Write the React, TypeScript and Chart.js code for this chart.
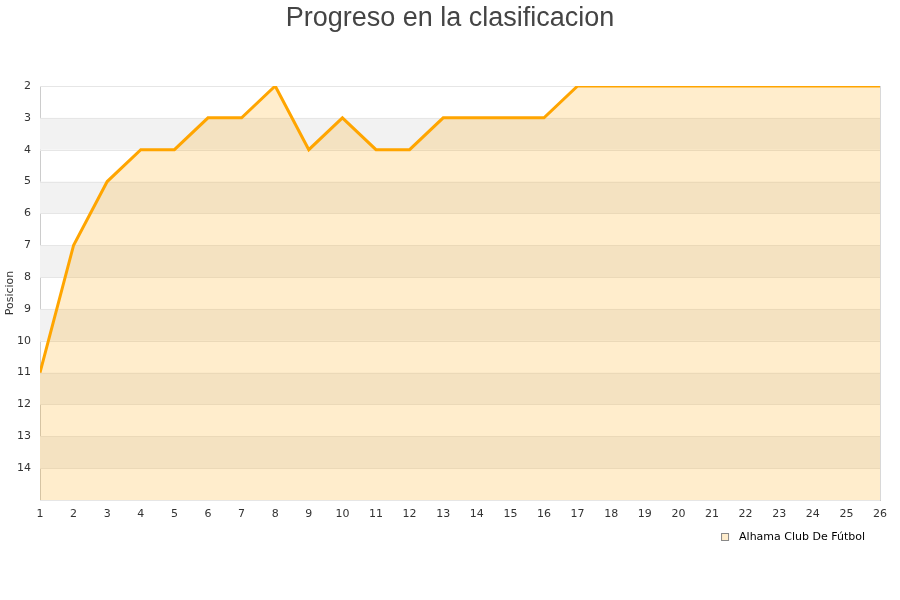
import React, { useEffect, useRef } from "react";
import { Chart, registerables } from "chart.js";

Chart.register(...registerables);

const jornadas: string[] = ["1","2","3","4","5","6","7","8","9","10","11","12","13","14","15","16","17","18","19","20","21","22","23","24","25","26"];
const posiciones: number[] = [11, 7, 5, 4, 4, 3, 3, 2, 4, 3, 4, 4, 3, 3, 3, 3, 2, 2, 2, 2, 2, 2, 2, 2, 2, 2];
const yTicks: number[] = [2, 3, 4, 5, 6, 7, 8, 9, 10, 11, 12, 13, 14];
const seriesName = "Alhama Club De Fútbol";
const chartTitle = "Progreso en la clasificacion";
const yTitle = "Posicion";

const fillColor = "rgba(255,165,0,0.2)";

const bandsPlugin = {
  id: "bands",
  beforeDatasetsDraw(chart: any) {
    const { ctx, chartArea, scales } = chart;
    const y = scales.y;
    ctx.save();
    ctx.fillStyle = "#f2f2f2";
    for (let v = 3; v < 15; v += 2) {
      const top = y.getPixelForValue(v);
      const bot = y.getPixelForValue(v + 1);
      ctx.fillRect(chartArea.left, top, chartArea.right - chartArea.left, bot - top);
    }
    ctx.strokeStyle = "#e6e6e6";
    ctx.lineWidth = 1;
    for (let v = 2; v <= 15; v++) {
      const p = Math.round(y.getPixelForValue(v)) + 0.5;
      ctx.beginPath();
      ctx.moveTo(chartArea.left, p);
      ctx.lineTo(chartArea.right, p);
      ctx.stroke();
    }
    ctx.strokeStyle = "#d8d8d8";
    ctx.beginPath();
    ctx.moveTo(Math.round(chartArea.right) + 0.5, chartArea.top);
    ctx.lineTo(Math.round(chartArea.right) + 0.5, chartArea.bottom);
    ctx.stroke();
    ctx.restore();
  },
};

const textPlugin = {
  id: "textOverlay",
  afterDraw(chart: any) {
    const { ctx } = chart;
    ctx.save();
    ctx.font = "27px 'Liberation Sans'";
    ctx.fillStyle = "#444";
    ctx.textAlign = "center";
    ctx.textBaseline = "alphabetic";
    ctx.fillText(chartTitle, 450, 26);
    ctx.font = "11px 'DejaVu Sans'";
    const textW = ctx.measureText(seriesName).width;
    const right = 865;
    const textX = right - textW;
    const cy = 537;
    const boxX = textX - 18;
    ctx.fillStyle = "#fff";
    ctx.fillRect(boxX, cy - 4, 8, 8);
    ctx.fillStyle = fillColor;
    ctx.fillRect(boxX, cy - 4, 8, 8);
    ctx.strokeStyle = "#888";
    ctx.lineWidth = 1;
    ctx.strokeRect(boxX + 0.5, cy - 3.5, 7, 7);
    ctx.fillStyle = "#000";
    ctx.textBaseline = "middle";
    ctx.textAlign = "left";
    ctx.fillText(seriesName, textX, cy);
    ctx.restore();
  },
};

export default function App() {
  const ref = useRef<HTMLCanvasElement | null>(null);
  useEffect(() => {
    if (!ref.current) return;
    const chart = new Chart(ref.current, {
      type: "line",
      data: {
        labels: jornadas,
        datasets: [
          {
            label: seriesName,
            data: posiciones,
            borderColor: "#ffa500",
            backgroundColor: fillColor,
            borderWidth: 3,
            pointRadius: 0,
            fill: "start",
            tension: 0,
            clip: 0,
          },
        ],
      },
      options: {
        animation: false,
        responsive: false,
        layout: { padding: { left: 0, right: 20, top: 86, bottom: 70 } },
        scales: {
          x: {
            type: "category",
            offset: false,
            afterFit: (s: any) => { s.height = 30; },
            grid: { display: false, drawTicks: false },
            border: { color: "#cccccc" },
            ticks: {
              color: "#333",
              font: { family: "DejaVu Sans", size: 11 },
              padding: 8,
              maxRotation: 0,
              autoSkip: false,
            },
          },
          y: {
            reverse: true,
            min: 2,
            max: 15,
            afterFit: (s: any) => { s.width = 40; },
            afterBuildTicks: (s: any) => { s.ticks = yTicks.map((v) => ({ value: v })); },
            grid: { display: false, drawTicks: false },
            border: { color: "#cccccc" },
            ticks: {
              color: "#333",
              font: { family: "DejaVu Sans", size: 11 },
              padding: 9,
            },
            title: {
              display: true,
              text: yTitle,
              color: "#333",
              font: { family: "DejaVu Sans", size: 11 },
              padding: { top: 4, bottom: 0 },
            },
          },
        },
        plugins: {
          title: { display: false },
          legend: { display: false },
          tooltip: { enabled: false },
        },
      },
      plugins: [bandsPlugin, textPlugin],
    });
    return () => chart.destroy();
  }, []);
  return (
    <div style={{ position: "fixed", left: 0, top: 0, width: 900, height: 600, background: "#fff" }}>
      <canvas ref={ref} width={900} height={600} />
    </div>
  );
}
